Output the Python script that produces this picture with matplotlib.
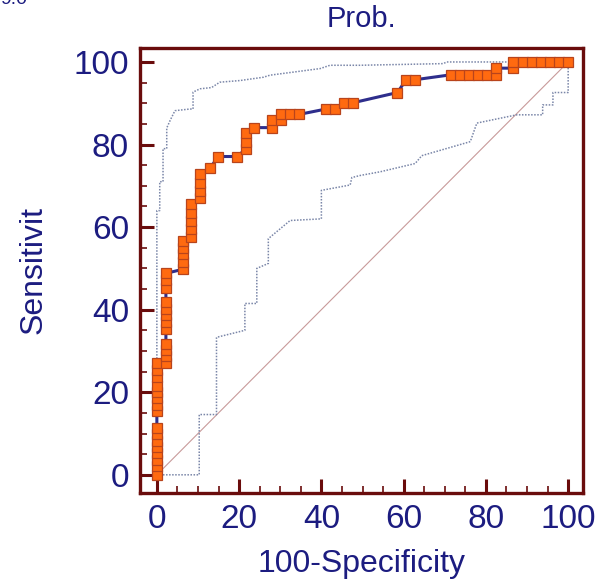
import matplotlib
matplotlib.use("Agg")
import matplotlib.pyplot as plt
from matplotlib.ticker import MultipleLocator

plt.rcParams['font.family'] = ['Liberation Sans', 'DejaVu Sans']

# ROC points (100-Specificity, Sensitivity)
roc_x = [0, 0, 0, 0, 0, 0, 0, 0, 0, 0, 0, 0, 0, 0, 0, 0,
         2.2, 2.2, 2.2, 2.2, 2.2, 2.2, 2.2, 2.2, 2.2, 2.2, 2.2, 2.2,
         6.4, 6.4, 6.4, 6.4, 6.4,
         8.4, 8.4, 8.4, 8.4, 8.4,
         10.5, 10.5, 10.5, 10.5,
         12.9, 14.9, 19.4,
         21.6, 21.6, 21.6,
         23.6, 27.9, 27.9, 30.1, 30.1, 32.4, 34.6, 41.1, 43.3, 45.5, 47.6,
         58.5, 60.6, 62.8,
         71.5, 73.7, 75.9, 78.1, 80.3, 82.4, 82.4, 86.7,
         86.7, 88.9, 91.2, 93.4, 95.6, 97.8, 100]
roc_y = [0, 2.1, 3.7, 5.2, 6.8, 8.3, 9.8, 11.4, 15.4, 17.0, 18.5, 20.1, 21.6, 23.8, 25.4, 27.1,
         27.1, 28.7, 30.2, 31.7, 35.2, 37.0, 38.6, 40.2, 41.9, 45.3, 47.1, 48.8,
         49.8, 51.6, 53.4, 55.0, 56.6,
         57.5, 59.5, 61.5, 63.3, 65.6,
         67.0, 68.8, 70.7, 72.8,
         74.2, 77.1, 77.1,
         78.8, 80.5, 82.9,
         84.1, 84.1, 86.0, 86.0, 87.3, 87.3, 87.3, 88.6, 88.6, 90.1, 90.1,
         92.6, 95.7, 95.7,
         96.9, 96.9, 96.9, 96.9, 96.9, 96.9, 98.5, 98.5,
         100, 100, 100, 100, 100, 100, 100]

# upper confidence bound
up_x = [0, 0, 0.7, 0.7, 1.5, 1.5, 2.4, 2.4, 3.3, 4.4, 8.0, 8.8, 8.8, 10.5, 13.3, 15.3,
        20.2, 25.9, 27.5, 39.7, 42.1, 49.4, 69.6, 70.5, 86.7]
up_y = [0, 64, 64, 71, 71, 79, 79, 84, 86, 88.2, 88.6, 88.6, 92.7, 93.5, 93.8, 95.1,
        95.5, 96.3, 96.8, 98.4, 99.2, 99.2, 99.6, 100, 100]

# lower confidence bound
lo_x = [0, 10.3, 10.3, 14.5, 14.5, 21.4, 21.4, 24.3, 24.3, 27.1, 27.1, 32.4, 40, 40,
        47, 47.4, 49.4, 54.3, 62.8, 64.4, 76.2, 77.8, 87.5, 93.8, 93.8, 96.3, 96.3,
        100, 100]
lo_y = [0, 0, 14.6, 14.6, 33.3, 35, 41.5, 41.5, 50, 51.2, 57.2, 61.6, 62, 68.9,
        70.2, 72, 72.5, 73.4, 75.4, 77.3, 80.7, 85.2, 87.2, 87.2, 89.6, 89.6, 92.6,
        92.6, 100]

navy = '#1c1c80'
frame = '#6a0c0c'

fig = plt.figure(figsize=(5.97, 5.81), dpi=100)
ax = fig.add_axes([0.2345, 0.1515, 0.742, 0.766])

ax.plot([0, 100], [0, 100], color='#c89a9a', lw=0.8, zorder=1)
ax.plot(up_x, up_y, color='#7a86a8', lw=1.1, ls=(0, (1, 1)), zorder=2)
ax.plot(lo_x, lo_y, color='#7a86a8', lw=1.1, ls=(0, (1, 1)), zorder=2)
ax.plot(roc_x, roc_y, color='#2e2e8c', lw=2.2, zorder=3)
ax.plot(roc_x, roc_y, ls='none', marker='s', ms=6.6, mfc='#ff6a10',
        mec='#b8441c', mew=0.9, zorder=4)

ax.set_xlim(-4.1, 103.6)
ax.set_ylim(-4.4, 103.4)
ax.xaxis.set_major_locator(MultipleLocator(20))
ax.xaxis.set_minor_locator(MultipleLocator(5))
ax.yaxis.set_major_locator(MultipleLocator(20))
ax.yaxis.set_minor_locator(MultipleLocator(5))
ax.tick_params(which='major', direction='in', length=10, width=2.2, color=frame,
               labelsize=24, labelcolor=navy, pad=8)
ax.tick_params(which='minor', direction='in', length=5, width=1.2, color=frame)
for s in ax.spines.values():
    s.set_color(frame)
    s.set_linewidth(2.4)

ax.set_xlabel('100-Specificity', fontsize=23, color=navy, labelpad=10)
ax.set_ylabel('Sensitivit', fontsize=23, color=navy, labelpad=18)
ax.set_title('Prob.', fontsize=21, color=navy, pad=15)
fig.text(0.0, 1.0, '9.0', fontsize=14, color=navy, ha='left', va='center')

fig.savefig('out.png', dpi=100)
